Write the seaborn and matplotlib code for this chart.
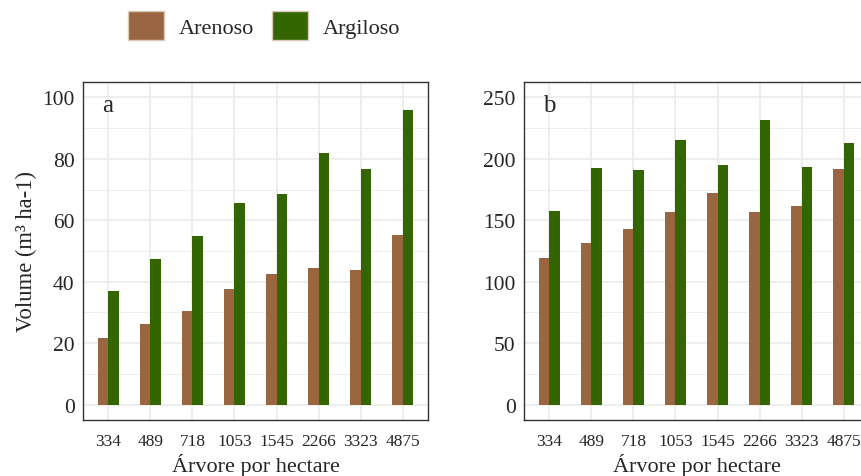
import pandas as pd
import matplotlib.pyplot as plt
import matplotlib.patches as mpatches
from matplotlib.ticker import MultipleLocator
import seaborn as sns

# Data
arvores = ["334", "489", "718", "1053", "1545", "2266", "3323", "4875"]
solos = ["Arenoso", "Argiloso"]
arenoso_a = [21.8, 26.1, 30.4, 37.6, 42.5, 44.5, 43.8, 55.2]
argiloso_a = [36.9, 47.4, 54.8, 65.5, 68.6, 81.8, 76.8, 96.0]
arenoso_b = [119.6, 131.7, 143.1, 156.4, 172.1, 156.9, 161.5, 192.1]
argiloso_b = [157.7, 192.9, 190.7, 215.1, 195.1, 231.9, 193.2, 213.2]

cores = {"Arenoso": "#9A6641", "Argiloso": "#336600"}

sns.set_style("white")
plt.rcParams["font.family"] = ["Liberation Serif", "DejaVu Serif"]


def tabela(v1, v2):
    return pd.DataFrame({
        "arvore": arvores * 2,
        "solo": [solos[0]] * len(arvores) + [solos[1]] * len(arvores),
        "volume": v1 + v2,
    })


fig = plt.figure(figsize=(8.61, 4.77), dpi=100)
ax_a = fig.add_axes([0.0964, 0.1174, 0.4007, 0.7086])
ax_b = fig.add_axes([0.6086, 0.1174, 0.4007, 0.7086])

paineis = [
    (ax_a, tabela(arenoso_a, argiloso_a), "a", (-5, 105), 20, 10),
    (ax_b, tabela(arenoso_b, argiloso_b), "b", (-12.5, 262.5), 50, 25),
]

for ax, df, letra, ylim, maj, mnr in paineis:
    sns.barplot(data=df, x="arvore", y="volume", hue="solo", order=arvores,
                hue_order=solos, palette=cores, width=0.5, gap=0,
                saturation=1, edgecolor="none", legend=False, ax=ax, zorder=3)
    ax.set_xlim(-0.6, 7.6)
    ax.set_ylim(*ylim)
    ax.yaxis.set_major_locator(MultipleLocator(maj))
    ax.yaxis.set_minor_locator(MultipleLocator(mnr))
    ax.grid(which="major", color="#EBEBEB", linewidth=1.2, zorder=0)
    ax.grid(which="minor", axis="y", color="#EBEBEB", linewidth=0.6, zorder=0)
    ax.set_axisbelow(True)
    for s in ax.spines.values():
        s.set_color("#333333")
        s.set_linewidth(1.0)
    ax.tick_params(axis="both", which="major", length=4, width=1.0,
                   color="#333333", direction="out")
    ax.tick_params(axis="y", which="minor", length=0)
    ax.tick_params(axis="y", labelsize=15.5, pad=2)
    ax.tick_params(axis="x", labelsize=12.5, pad=5)
    ax.set_xlabel("Árvore por hectare", fontsize=16, labelpad=3)
    ax.set_ylabel("")
    ax.text(0.055, 0.965, letra, transform=ax.transAxes, fontsize=18,
            ha="left", va="top")

ax_a.set_ylabel("Volume (m³ ha-1)", fontsize=16.3, labelpad=4)

handles = [mpatches.Patch(facecolor=cores[s], edgecolor="#D9C7B8", label=s)
           for s in solos]
fig.legend(handles=handles, loc="center", bbox_to_anchor=(0.307, 0.945),
           ncol=2, frameon=False, fontsize=16, handlelength=1.6,
           handleheight=1.6, handletextpad=0.7, columnspacing=0.8)

fig.savefig("out.png", dpi=100)
